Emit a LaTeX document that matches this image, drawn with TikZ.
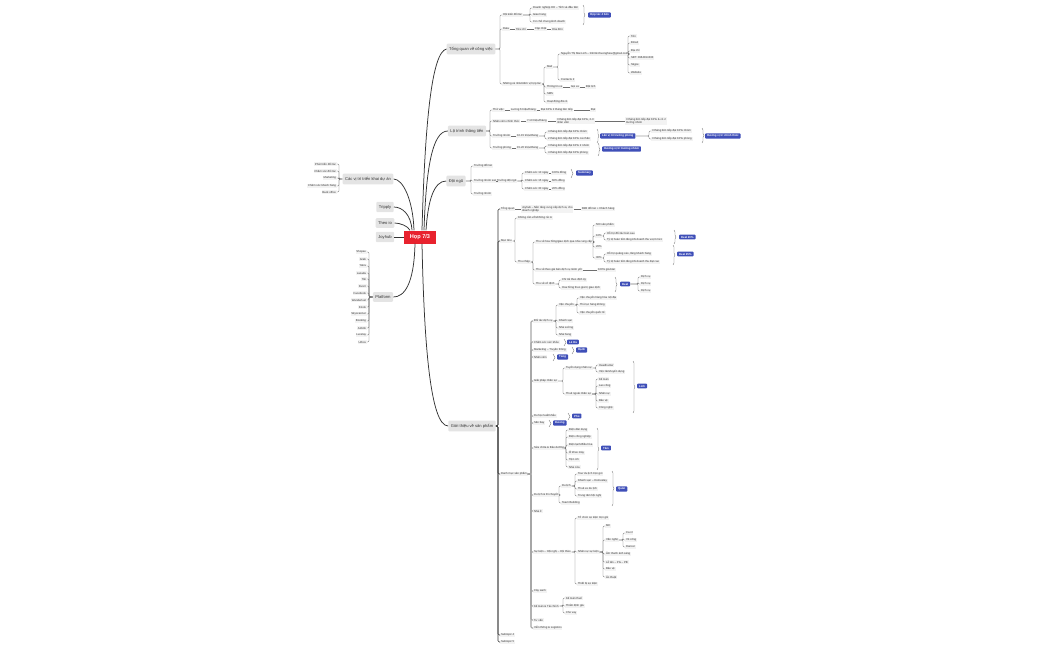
\documentclass[tikz,border=0pt]{standalone}
\usepackage{fontspec}
\setmainfont{Liberation Sans}
\usetikzlibrary{decorations.pathreplacing}
\definecolor{rootred}{HTML}{E8222E}
\definecolor{tagblue}{HTML}{3F4FB8}
\definecolor{topicgray}{HTML}{E4E4E4}
\definecolor{leafgray}{HTML}{F3F3F3}
\definecolor{inkgray}{HTML}{333333}
\definecolor{linegray}{HTML}{6E6E6E}

\tikzset{
  leaf/.style={anchor=west, fill=leafgray, text=inkgray, inner xsep=0.8pt, inner ysep=0.7pt,
    font=\fontsize{2.8}{3.3}\selectfont, align=left},
  topic/.style={fill=topicgray, text=inkgray, rounded corners=1pt, minimum height=8pt,
    inner xsep=2.5pt, font=\fontsize{4.1}{5}\selectfont},
  tag/.style={anchor=west, fill=tagblue, text=white, rounded corners=0.8pt, inner xsep=2pt,
    inner ysep=1.3pt, font=\fontsize{2.8}{3.3}\selectfont\bfseries},
  hub/.style={fill=rootred, text=white, minimum width=32pt, minimum height=13pt,
    font=\fontsize{5.6}{6.5}\selectfont\bfseries},
  branch/.style={draw=inkgray, line width=0.75pt},
  link/.style={draw=linegray, line width=0.35pt, rounded corners=1.2pt},
  mainlink/.style={link, draw=inkgray, line width=0.6pt},
  widelink/.style={link, draw=gray!70, line width=1.1pt},
  sumbrace/.style={draw=linegray, line width=0.35pt, decorate, decoration={brace, amplitude=2pt}},
}

\begin{document}
\begin{tikzpicture}[x=1pt, y=-1pt]
  \useasboundingbox (0,0) rectangle (1050,650);
  % Root and main topics
  \node[hub] (hub) at (420,237) {Họp 7/3};
  \node[topic] (vitri) at (368,179) {Các vị trí triển khai dự án};
  \node[topic] (tripply) at (385,207) {Tripply};
  \node[topic] (theoio) at (385,223) {Theo io};
  \node[topic] (joyhub) at (385,237) {Joyhub};
  \node[topic] (platform) at (383,297) {Platform};
  \node[topic] (tq) at (471,49) {Tổng quan về công việc};
  \node[topic] (lt) at (467,131) {Lộ trình thăng tiến};
  \node[topic] (dn) at (456,181) {Đội ngũ};
  \node[topic] (gt) at (472,426) {Giới thiệu về sản phẩm};
  % Curved branches from the root
  \draw[branch] ([xshift=-6pt]hub.north) .. controls (413,200) and (403,179) .. (vitri.east);
  \draw[branch] ([xshift=-8pt]hub.north) .. controls (411,214) and (402,207) .. (tripply.east);
  \draw[branch] ([xshift=-10pt]hub.north) .. controls (408,226) and (400,223) .. (theoio.east);
  \draw[branch] (hub.west) -- (joyhub.east);
  \draw[branch] ([xshift=-5pt]hub.south) .. controls (414,285) and (404,297) .. (platform.east);
  \draw[branch] ([xshift=2pt]hub.north) .. controls (425,120) and (432,52) .. (tq.west);
  \draw[branch] ([xshift=4pt]hub.north) .. controls (426,170) and (432,131) .. (lt.west);
  \draw[branch] ([xshift=6pt]hub.north) .. controls (428,200) and (434,181) .. (dn.west);
  \draw[branch] ([xshift=2pt]hub.south) .. controls (424,340) and (430,426) .. (gt.west);

  % Cac vi tri trien khai du an
  \node[leaf, anchor=east] (vt1) at (337,164) {Phát triển đối tác};
  \node[leaf, anchor=east] (vt2) at (337,171) {Chăm sóc đối tác};
  \node[leaf, anchor=east] (vt3) at (337,178) {Marketing};
  \node[leaf, anchor=east] (vt4) at (337,186) {Chăm sóc khách hàng};
  \node[leaf, anchor=east] (vt5) at (337,192) {Back office};
  \foreach \c in {vt1,vt2,vt3,vt4,vt5}
    \draw[link] (vitri.west) -| ([xshift=2pt]\c.east) -- (\c.east);

  % Platform
  \node[leaf, anchor=east] (pf1) at (367,252) {Shopee};
  \node[leaf, anchor=east] (pf2) at (367,259) {Grab};
  \node[leaf, anchor=east] (pf3) at (367,266) {Yatra};
  \node[leaf, anchor=east] (pf4) at (367,273) {Lazada};
  \node[leaf, anchor=east] (pf5) at (367,279) {Tiki};
  \node[leaf, anchor=east] (pf6) at (367,286) {Fiverr};
  \node[leaf, anchor=east] (pf7) at (367,293) {Facebook};
  \node[leaf, anchor=east] (pf8) at (367,300) {Wanderlust};
  \node[leaf, anchor=east] (pf9) at (367,307) {Klook};
  \node[leaf, anchor=east] (pf10) at (367,314) {Skyscanner};
  \node[leaf, anchor=east] (pf11) at (367,321) {Booking};
  \node[leaf, anchor=east] (pf12) at (367,328) {Airbnb};
  \node[leaf, anchor=east] (pf13) at (367,335) {Luxstay};
  \node[leaf, anchor=east] (pf14) at (367,342) {Urbox};
  \foreach \c in {pf1,pf2,pf3,pf4,pf5,pf6,pf7,pf8,pf9,pf10,pf11,pf12,pf13,pf14}
    \draw[link] (platform.west) -| ([xshift=2pt]\c.east) -- (\c.east);

  % Tong quan ve cong viec
  \node[leaf] (tq1) at (502,15) {Hội kiến đối tác};
  \node[leaf] (tq2) at (502,29) {Data};
  \node[leaf] (tq3) at (502,84) {Những cá nhân/đơn vị hợp tác};
  \foreach \c in {tq1,tq2,tq3}
    \draw[link] (tq.east) -| ([xshift=-2pt]\c.west) -- (\c.west);
  \node[leaf] (tq11) at (532,8) {Doanh nghiệp HH – Tỉnh và đầu tiên};
  \node[leaf] (tq12) at (532,15) {Giao hàng};
  \node[leaf] (tq13) at (532,22) {Cơ chế chung kinh doanh};
  \foreach \c in {tq11,tq12,tq13}
    \draw[link] (tq1.east) -| ([xshift=-2pt]\c.west) -- (\c.west);
  \draw[sumbrace] (583,5) -- (583,25);
  \node[tag] (tqtag) at (588,15) {Hợp tác 4 bên};
  \node[leaf] (tq21) at (515,29) {Tiêu chí};
  \node[leaf] (tq22) at (534,29) {Cập nhật};
  \node[leaf] (tq23) at (551,29) {Hóa đơn};
  \draw[link] (tq2) -- (tq21) -- (tq22) -- (tq23);
  \node[leaf] (tq31) at (546,67) {Mail};
  \node[leaf] (tq32) at (546,87) {Thông tin xe};
  \node[leaf] (tq33) at (546,94) {SMS};
  \node[leaf] (tq34) at (546,102) {Hoạt động đã có};
  \foreach \c in {tq31,tq32,tq33,tq34}
    \draw[link] (tq3.east) -| ([xshift=-2pt]\c.west) -- (\c.west);
  \node[leaf] (tq311) at (560,54) {Nguyễn Thị Mai Linh – linhmk.thuonghieu@gmail.com};
  \node[leaf] (tq312) at (560,80) {Contacts 2};
  \foreach \c in {tq311,tq312}
    \draw[link] (tq31.east) -| ([xshift=-2pt]\c.west) -- (\c.west);
  \node[leaf] (ct1) at (630,36) {Tên};
  \node[leaf] (ct2) at (630,43) {Email};
  \node[leaf] (ct3) at (630,51) {Địa chỉ};
  \node[leaf] (ct4) at (630,58) {SĐT: 0964814333};
  \node[leaf] (ct5) at (630,65) {Skype};
  \node[leaf] (ct6) at (630,73) {Website};
  \foreach \c in {ct1,ct2,ct3,ct4,ct5,ct6}
    \draw[link] (tq311.east) -| ([xshift=-2pt]\c.west) -- (\c.west);
  \node[leaf] (tq321) at (570,87) {Gọi xe};
  \node[leaf] (tq322) at (585,87) {Đặt lịch};
  \draw[link] (tq32) -- (tq321) -- (tq322);

  % Lo trinh thang tien
  \node[leaf] (lt1) at (492,110) {Thử việc};
  \node[leaf] (lt2) at (492,121) {Nhân viên chính thức};
  \node[leaf] (lt3) at (492,136) {Trưởng nhóm};
  \node[leaf] (lt4) at (492,148) {Trưởng phòng};
  \foreach \c in {lt1,lt2,lt3,lt4}
    \draw[link] (lt.east) -| ([xshift=-2pt]\c.west) -- (\c.west);
  \node[leaf] (lt11) at (510,110) {Lương 6 triệu/tháng};
  \node[leaf] (lt12) at (540,110) {Đạt KPIs 2 tháng liên tiếp};
  \node[leaf] (lt13) at (590,110) {Đạt};
  \draw[link] (lt1) -- (lt11) -- (lt12) -- (lt13);
  \node[leaf] (lt21) at (526,121) {7-10 triệu/tháng};
  \node[leaf] (lt22) at (556,121) {3 tháng liên tiếp đạt KPIs, 2-3\\nhân viên};
  \node[leaf] (lt23) at (625,121) {3 tháng liên tiếp đạt KPIs \& có 2\\trưởng nhóm};
  \draw[link] (lt2) -- (lt21) -- (lt22) -- (lt23);
  \node[leaf] (lt31) at (516,136) {10-15 triệu/tháng};
  \draw[link] (lt3) -- (lt31);
  \node[leaf] (lt32) at (547,132) {4 tháng liên tiếp đạt KPIs nhóm};
  \node[leaf] (lt33) at (547,139) {2 tháng liên tiếp đạt KPIs cá nhân};
  \foreach \c in {lt32,lt33}
    \draw[link] (lt31.east) -| ([xshift=-2pt]\c.west) -- (\c.west);
  \draw[sumbrace] (597,129) -- (597,143);
  \node[tag] (lttag1) at (600,136) {Lên vị trí trưởng phòng};
  \node[leaf] (lt34) at (651,131) {3 tháng liên tiếp đạt KPIs nhóm};
  \node[leaf] (lt35) at (651,139) {3 tháng liên tiếp đạt KPIs phòng};
  \foreach \c in {lt34,lt35}
    \draw[link] (lttag1.east) -| ([xshift=-2pt]\c.west) -- (\c.west);
  \draw[sumbrace] (702,128) -- (702,143);
  \node[tag] (lttag2) at (705,136) {Hưởng vị trí chính thức};
  \node[leaf] (lt41) at (516,148) {15-20 triệu/tháng};
  \draw[link] (lt4) -- (lt41);
  \node[leaf] (lt42) at (547,146) {3 tháng liên tiếp đạt KPIs 2 nhóm};
  \node[leaf] (lt43) at (547,153) {4 tháng liên tiếp đạt KPIs phòng};
  \foreach \c in {lt42,lt43}
    \draw[link] (lt41.east) -| ([xshift=-2pt]\c.west) -- (\c.west);
  \draw[sumbrace] (598,143) -- (598,156);
  \node[tag] (lttag3) at (602,149) {Hưởng vị trí trưởng nhóm};

  % Doi ngu
  \node[leaf] (dn1) at (473,166) {Trưởng đối tác};
  \node[leaf] (dn2) at (473,181) {Trưởng nhóm sale};
  \node[leaf] (dn3) at (473,194) {Trưởng nhóm};
  \foreach \c in {dn1,dn2,dn3}
    \draw[link] (dn.east) -| ([xshift=-2pt]\c.west) -- (\c.west);
  \node[leaf] (dn21) at (496,181) {Trưởng đội ngũ};
  \draw[link] (dn2) -- (dn21);
  \node[leaf] (dn22) at (524,173) {Chăm sóc 10 ngày};
  \node[leaf] (dn23) at (524,181) {Chăm sóc 15 ngày};
  \node[leaf] (dn24) at (524,189) {Chăm sóc 30 ngày};
  \foreach \c in {dn22,dn23,dn24}
    \draw[link] (dn21.east) -| ([xshift=-2pt]\c.west) -- (\c.west);
  \node[leaf] (dn221) at (551,173) {100\% đồng};
  \node[leaf] (dn231) at (551,181) {60\% đồng};
  \node[leaf] (dn241) at (551,189) {20\% đồng};
  \draw[link] (dn22) -- (dn221);
  \draw[link] (dn23) -- (dn231);
  \draw[link] (dn24) -- (dn241);
  \draw[sumbrace] (571,169) -- (571,178);
  \node[tag] (dntag) at (576,173) {Summary};

  % Gioi thieu ve san pham
  \node[leaf] (gt1) at (500,209) {Tổng quan};
  \node[leaf] (gt2) at (500,241) {Mục tiêu};
  \node[leaf] (gt3) at (500,474) {Danh mục sản phẩm};
  \node[leaf] (gt4) at (500,635) {Subtopic 4};
  \node[leaf] (gt5) at (500,642) {Subtopic 5};
  \foreach \c in {gt1,gt2,gt3,gt4,gt5}
    \draw[mainlink] (gt.east) -| ([xshift=-2pt]\c.west) -- (\c.west);
  \node[leaf] (gt11) at (521,209) {Joyhub – Nền tảng cung cấp dịch vụ cho\\doanh nghiệp};
  \node[leaf] (gt12) at (581,209) {B2B đối tác + Khách hàng};
  \draw[link] (gt1) -- (gt11) -- (gt12);
  \node[leaf] (gt21) at (517,218) {Không cần vốn/không rủi ro};
  \node[leaf] (gt22) at (517,262) {Thu nhập};
  \foreach \c in {gt21,gt22}
    \draw[link] (gt2.east) -| ([xshift=-2pt]\c.west) -- (\c.west);
  \node[leaf] (tn1) at (535,242) {Thu về hoa hồng/giao dịch qua nhà cung cấp};
  \node[leaf] (tn2) at (535,270) {Thu về theo giá bán dịch vụ niêm yết};
  \node[leaf] (tn3) at (535,284) {Thu về cố định};
  \foreach \c in {tn1,tn2,tn3}
    \draw[link] (gt22.east) -| ([xshift=-2pt]\c.west) -- (\c.west);
  \node[leaf] (hh1) at (595,225) {500 sản phẩm};
  \node[leaf] (hh2) at (595,236) {10\%};
  \node[leaf] (hh3) at (595,247) {20\%};
  \node[leaf] (hh4) at (595,258) {30\%};
  \foreach \c in {hh1,hh2,hh3,hh4}
    \draw[link] (tn1.east) -| ([xshift=-2pt]\c.west) -- (\c.west);
  \node[leaf] (hh21) at (606,233) {Hỗ trợ đối tác bán sau};
  \node[leaf] (hh22) at (606,240) {Tỷ lệ hoàn tiền tăng khi doanh thu vượt mức};
  \foreach \c in {hh21,hh22}
    \draw[link] (hh2.east) -| ([xshift=-2pt]\c.west) -- (\c.west);
  \draw[sumbrace] (674,230) -- (674,244);
  \node[tag] (deal20) at (679,237) {Deal 20\%};
  \node[leaf] (hh41) at (606,254) {Hỗ trợ quảng cáo, tăng khách hàng};
  \node[leaf] (hh42) at (606,262) {Tỷ lệ hoàn tiền tăng khi doanh thu đạt cao};
  \foreach \c in {hh41,hh42}
    \draw[link] (hh4.east) -| ([xshift=-2pt]\c.west) -- (\c.west);
  \draw[sumbrace] (673,245) -- (673,265);
  \node[tag] (deal25) at (677,254) {Deal 25\%};
  \node[leaf] (tn21) at (597,270) {100\% giá bán};
  \draw[link] (tn2) -- (tn21);
  \node[leaf] (tn31) at (561,280) {Chi trả theo định kỳ};
  \node[leaf] (tn32) at (561,288) {Hoa hồng theo giá trị giao dịch};
  \foreach \c in {tn31,tn32}
    \draw[link] (tn3.east) -| ([xshift=-2pt]\c.west) -- (\c.west);
  \draw[sumbrace] (615,277) -- (615,292);
  \node[tag] (deal) at (620,284) {Deal};
  \node[leaf] (dv1) at (640,277) {Dịch vụ};
  \node[leaf] (dv2) at (640,284) {Dịch vụ};
  \node[leaf] (dv3) at (640,291) {Dịch vụ};
  \foreach \c in {dv1,dv2,dv3}
    \draw[link] (deal.east) -| ([xshift=-2pt]\c.west) -- (\c.west);

  % Danh muc san pham
  \node[leaf] (sp1) at (533,321) {Đối tác dịch vụ};
  \node[leaf] (sp2) at (533,342) {Chăm sóc sức khỏe};
  \node[leaf] (sp3) at (533,350) {Marketing – Truyền thông};
  \node[leaf] (sp4) at (533,357) {Nhân viên};
  \node[leaf] (sp5) at (533,381) {Giải pháp nhân sự};
  \node[leaf] (sp6) at (533,416) {Du học/xuất khẩu};
  \node[leaf] (sp7) at (533,423) {Sân bay};
  \node[leaf] (sp8) at (533,448) {Sửa chữa \& Bảo dưỡng};
  \node[leaf] (sp9) at (533,495) {Du lịch \& Di chuyển};
  \node[leaf] (sp10) at (533,511) {Nhà ở};
  \node[leaf] (sp11) at (533,552) {Sự kiện – Hội nghị – Hội thảo};
  \node[leaf] (sp12) at (533,591) {Cây xanh};
  \node[leaf] (sp13) at (533,606) {Kế toán \& Tài chính};
  \node[leaf] (sp14) at (533,620) {Tư vấn};
  \node[leaf] (sp15) at (533,628) {Viễn thông \& Logistics};
  \foreach \c in {sp1,sp2,sp3,sp4,sp5,sp6,sp7,sp8,sp9,sp10,sp11,sp12,sp13,sp14,sp15}
    \draw[widelink] (gt3.east) -| ([xshift=-2pt]\c.west) -- (\c.west);
  % -- doi tac dich vu
  \node[leaf] (sp1a) at (558,305) {Vận chuyển};
  \node[leaf] (sp1b) at (558,321) {Khách sạn};
  \node[leaf] (sp1c) at (558,328) {Nhà xưởng};
  \node[leaf] (sp1d) at (558,335) {Nhà hàng};
  \foreach \c in {sp1a,sp1b,sp1c,sp1d}
    \draw[link] (sp1.east) -| ([xshift=-2pt]\c.west) -- (\c.west);
  \node[leaf] (vc1) at (579,298) {Vận chuyển hàng hóa nội địa};
  \node[leaf] (vc2) at (579,305) {Thủ tục hàng không};
  \node[leaf] (vc3) at (579,313) {Vận chuyển quốc tế};
  \foreach \c in {vc1,vc2,vc3}
    \draw[link] (sp1a.east) -| ([xshift=-2pt]\c.west) -- (\c.west);
  % -- single owners
  \draw[sumbrace] (564,339) -- (564,346);
  \node[tag] (tagha) at (567,342) {Lê Hà};
  \draw[sumbrace] (572,347) -- (572,354);
  \node[tag] (taghanh) at (576,350) {Hạnh};
  \draw[sumbrace] (553,354) -- (553,361);
  \node[tag] (tagtung) at (557,357) {Tùng};
  % -- nhan su
  \node[leaf] (ns1) at (565,368) {Tuyển dụng nhân sự};
  \node[leaf] (ns2) at (565,394) {Thuê ngoài nhân sự};
  \foreach \c in {ns1,ns2}
    \draw[link] (sp5.east) -| ([xshift=-2pt]\c.west) -- (\c.west);
  \node[leaf] (ns11) at (598,365) {Headhunter};
  \node[leaf] (ns12) at (598,372) {Việc làm/tuyển dụng};
  \foreach \c in {ns11,ns12}
    \draw[link] (ns1.east) -| ([xshift=-2pt]\c.west) -- (\c.west);
  \node[leaf] (ns21) at (598,379) {Kế toán};
  \node[leaf] (ns22) at (598,386) {Lao công};
  \node[leaf] (ns23) at (598,394) {Nhân sự};
  \node[leaf] (ns24) at (598,401) {Bảo vệ};
  \node[leaf] (ns25) at (598,408) {Công nghệ};
  \foreach \c in {ns21,ns22,ns23,ns24,ns25}
    \draw[link] (ns2.east) -| ([xshift=-2pt]\c.west) -- (\c.west);
  \draw[sumbrace] (633,361) -- (633,413);
  \node[tag] (taglinh) at (637,386) {Linh};
  \draw[sumbrace] (568,413) -- (568,420);
  \node[tag] (tagphu) at (572,416) {Phú};
  \draw[sumbrace] (549,420) -- (549,427);
  \node[tag] (tagduong) at (553,423) {Dương};
  % -- sua chua
  \node[leaf] (sc1) at (568,430) {Điện dân dụng};
  \node[leaf] (sc2) at (568,437) {Điện công nghiệp};
  \node[leaf] (sc3) at (568,445) {Điện lạnh/điều hòa};
  \node[leaf] (sc4) at (568,453) {Ô tô/xe máy};
  \node[leaf] (sc5) at (568,460) {Tiện ích};
  \node[leaf] (sc6) at (568,467) {Nhà cửa};
  \foreach \c in {sc1,sc2,sc3,sc4,sc5,sc6}
    \draw[link] (sp8.east) -| ([xshift=-2pt]\c.west) -- (\c.west);
  \draw[sumbrace] (597,428) -- (597,470);
  \node[tag] (tagtam) at (601,448) {Tâm};
  % -- du lich
  \node[leaf] (dl1) at (561,486) {Du lịch};
  \node[leaf] (dl2) at (561,503) {Team Building};
  \foreach \c in {dl1,dl2}
    \draw[link] (sp9.east) -| ([xshift=-2pt]\c.west) -- (\c.west);
  \node[leaf] (dl11) at (577,474) {Tour du lịch trọn gói};
  \node[leaf] (dl12) at (577,481) {Khách sạn – Homestay};
  \node[leaf] (dl13) at (577,489) {Thuê xe du lịch};
  \node[leaf] (dl14) at (577,496) {Trung tâm hội nghị};
  \foreach \c in {dl11,dl12,dl13,dl14}
    \draw[link] (dl1.east) -| ([xshift=-2pt]\c.west) -- (\c.west);
  \draw[sumbrace] (612,471) -- (612,506);
  \node[tag] (tagquan) at (616,489) {Quân};
  % -- su kien
  \node[leaf] (sk1) at (577,518) {Tổ chức sự kiện trọn gói};
  \node[leaf] (sk2) at (577,552) {Nhân sự sự kiện};
  \node[leaf] (sk3) at (577,584) {Thiết bị sự kiện};
  \foreach \c in {sk1,sk2,sk3}
    \draw[link] (sp11.east) -| ([xshift=-2pt]\c.west) -- (\c.west);
  \node[leaf] (sk21) at (605,526) {MC};
  \node[leaf] (sk22) at (605,540) {Văn nghệ};
  \node[leaf] (sk23) at (605,554) {Âm thanh ánh sáng};
  \node[leaf] (sk24) at (605,562) {Lễ tân – PG – PB};
  \node[leaf] (sk25) at (605,569) {Bảo vệ};
  \node[leaf] (sk26) at (605,577) {Ảo thuật};
  \foreach \c in {sk21,sk22,sk23,sk24,sk25,sk26}
    \draw[link] (sk2.east) -| ([xshift=-2pt]\c.west) -- (\c.west);
  \node[leaf] (vn1) at (625,533) {Ca sĩ};
  \node[leaf] (vn2) at (625,540) {Vũ công};
  \node[leaf] (vn3) at (625,547) {Dancer};
  \foreach \c in {vn1,vn2,vn3}
    \draw[link] (sk22.east) -| ([xshift=-2pt]\c.west) -- (\c.west);
  % -- ke toan
  \node[leaf] (kt1) at (565,598) {Kế toán thuế};
  \node[leaf] (kt2) at (565,606) {Thẩm định giá};
  \node[leaf] (kt3) at (565,613) {Cho vay};
  \foreach \c in {kt1,kt2,kt3}
    \draw[link] (sp13.east) -| ([xshift=-2pt]\c.west) -- (\c.west);
\end{tikzpicture}
\end{document}
